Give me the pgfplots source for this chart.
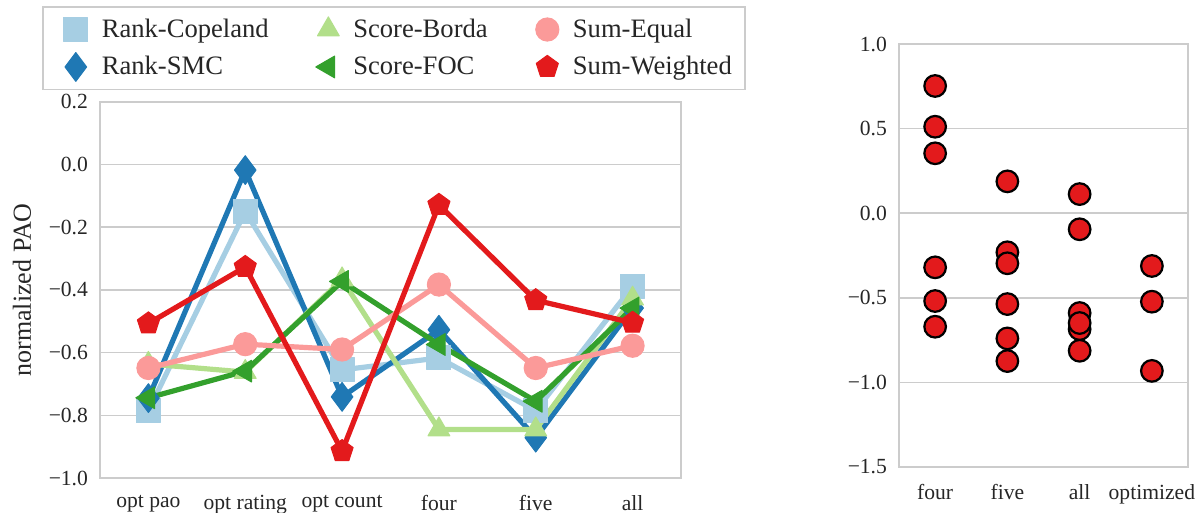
\documentclass[border=0pt]{standalone}
\usepackage{fontspec}
\setmainfont{Liberation Serif}
\usepackage{pgfplots}
\pgfplotsset{compat=1.18}
\definecolor{cA}{HTML}{A6CEE3}
\definecolor{cB}{HTML}{1F78B4}
\definecolor{cC}{HTML}{B2DF8A}
\definecolor{cD}{HTML}{33A02C}
\definecolor{cE}{HTML}{FB9A99}
\definecolor{cF}{HTML}{E31A1C}
\definecolor{gridc}{HTML}{CCCCCC}
\definecolor{txt}{HTML}{262626}
\pgfplotsset{
  sb/.style={
    scale only axis,
    major tick length=0pt,
    axis line style={draw=gridc, line width=1pt},
    ymajorgrids,
    grid style={draw=gridc, line width=0.8pt},
    tick label style={font=\fontsize{10.8}{12}\selectfont, text=txt},
    yticklabel style={xshift=-2.5pt},
    xticklabel style={yshift=-5pt},
  },
  ln/.style={line width=2.6pt, line join=round},
}
\begin{document}
\begin{tikzpicture}
\path[use as bounding box] (0pt,0pt) rectangle (599pt,-256.5pt);
\begin{axis}[sb,
  at={(50pt,-50.85pt)}, anchor=north west,
  width=290.5pt, height=188.2pt,
  xmin=-0.5, xmax=5.5, ymin=-1.0, ymax=0.2,
  xtick={0,1,2,3,4,5},
  xticklabels={opt pao, opt rating, opt count, four, five, all},
  ytick={-1.0,-0.8,-0.6,-0.4,-0.2,0.0,0.2},
  yticklabels={−1.0,−0.8,−0.6,−0.4,−0.2,0.0,0.2},
  ylabel={normalized PAO},
  ylabel style={font=\fontsize{13}{14}\selectfont, text=txt, yshift=2pt},
  legend image code/.code={\path[draw=none,fill=none] (-12pt,0pt) rectangle (0pt,0.01pt); \draw[#1] plot[only marks] coordinates {(0pt,0pt)};},
  legend columns=2, transpose legend,
  legend cell align=left,
  legend style={at={(rel axis cs:-0.0998,1.2543)}, anchor=north west,
    draw=gridc, line width=0.8pt, fill=white,
    font=\fontsize{13.3}{15}\selectfont, text=txt,
    inner xsep=4.5pt, inner ysep=4pt, row sep=4pt,
    /tikz/every odd column/.append style={column sep=5pt},
    /tikz/every even column/.append style={column sep=15.8pt}},
]
\addplot[cA, ln, mark=square*, mark size=6pt, mark options={solid, fill=cA, line width=0.5pt}]
  coordinates {(0,-0.785) (1,-0.150) (2,-0.655) (3,-0.617) (4,-0.785) (5,-0.389)};
\addlegendentry{Rank-Copeland}
\addplot[cB, ln, mark=diamond*, mark size=7.2pt, mark options={solid, fill=cB, line width=0.5pt}]
  coordinates {(0,-0.745) (1,-0.018) (2,-0.741) (3,-0.527) (4,-0.871) (5,-0.458)};
\addlegendentry{Rank-SMC}
\addplot[cC, ln, mark=triangle*, mark size=6.3pt, mark options={solid, fill=cC, line width=0.5pt}]
  coordinates {(0,-0.636) (1,-0.662) (2,-0.367) (3,-0.845) (4,-0.845) (5,-0.428)};
\addlegendentry{Score-Borda}
\addplot[cD, ln, mark=triangle*, mark size=6.3pt, mark options={solid, fill=cD, line width=0.5pt, rotate=90}]
  coordinates {(0,-0.744) (1,-0.659) (2,-0.373) (3,-0.574) (4,-0.755) (5,-0.458)};
\addlegendentry{Score-FOC}
\addplot[cE, ln, mark=*, mark size=5.8pt, mark options={solid, fill=cE, line width=0.5pt}]
  coordinates {(0,-0.649) (1,-0.573) (2,-0.590) (3,-0.383) (4,-0.649) (5,-0.578)};
\addlegendentry{Sum-Equal}
\addplot[cF, ln, mark=pentagon*, mark size=5.8pt, mark options={solid, fill=cF, line width=0.5pt}]
  coordinates {(0,-0.507) (1,-0.327) (2,-0.914) (3,-0.129) (4,-0.433) (5,-0.505)};
\addlegendentry{Sum-Weighted}
\end{axis}
\begin{axis}[sb,
  at={(449.5pt,-22pt)}, anchor=north west,
  width=144.5pt, height=211.5pt,
  xmin=-0.5, xmax=3.5, ymin=-1.5, ymax=1.0,
  xtick={0,1,2,3},
  xticklabels={four, five, all, optimized},
  ytick={-1.5,-1.0,-0.5,0.0,0.5,1.0},
  yticklabels={−1.5,−1.0,−0.5,0.0,0.5,1.0},
]
\addplot[only marks, mark=*, mark size=5.4pt, mark options={fill=cF, draw=black, line width=1.1pt}]
  table {
x y
0 0.752
0 0.511
0 0.354
0 -0.320
0 -0.519
0 -0.671
1 0.188
1 -0.231
1 -0.296
1 -0.537
1 -0.740
1 -0.874
2 0.113
2 -0.095
2 -0.590
2 -0.685
2 -0.649
2 -0.813
3 -0.312
3 -0.523
3 -0.932
};
\end{axis}
\end{tikzpicture}
\end{document}
